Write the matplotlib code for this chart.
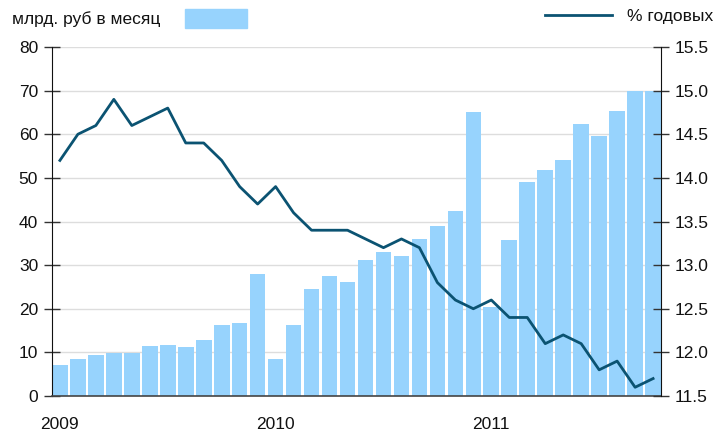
import matplotlib
matplotlib.use("Agg")
import matplotlib.pyplot as plt
from matplotlib.patches import Rectangle
from matplotlib.lines import Line2D

plt.rcParams['font.family'] = ['Liberation Sans', 'DejaVu Sans']

months = list(range(34))
year_labels = ["2009", "2010", "2011"]
year_pos = [0, 12, 24]

volume = [7.1, 8.5, 9.4, 9.85, 9.85, 11.45, 11.7, 11.2, 12.8, 16.3, 16.7, 27.9,
          8.5, 16.3, 24.5, 27.5, 26.1, 31.1, 33.0, 32.1, 36.0, 38.9, 42.4, 65.0,
          20.4, 35.7, 49.0, 51.9, 54.0, 62.4, 59.5, 65.4, 70.0, 69.8]
rate = [14.2, 14.5, 14.6, 14.9, 14.6, 14.7, 14.8, 14.4, 14.4, 14.2, 13.9, 13.7,
        13.9, 13.6, 13.4, 13.4, 13.4, 13.3, 13.2, 13.3, 13.2, 12.8, 12.6, 12.5,
        12.6, 12.4, 12.4, 12.1, 12.2, 12.1, 11.8, 11.9, 11.6, 11.7]

left_label = "млрд. руб в месяц"
right_label = "% годовых"

bar_color = "#97D3FD"
line_color = "#0B5372"
fs = 12.5

fig = plt.figure(figsize=(7.17, 4.32), dpi=100)
W, H = 717, 432
ax = fig.add_axes([52 / W, 1 - 396 / H, (661 - 52) / W, (396 - 47) / H])
ax2 = ax.twinx()

ax.set_axisbelow(True)
ax.bar(months, volume, width=0.87, color=bar_color, zorder=2)
ax.set_ylim(0, 80)
ax.set_yticks(range(0, 81, 10))
ax.set_xlim(-0.44, 33.44)
ax.set_xticks(year_pos)
ax.set_xticklabels(year_labels)
ax.grid(axis='y', color='#DDDDDD', linewidth=1.0)
ax.grid(axis='x', visible=False)

ax2.plot(months, rate, color=line_color, linewidth=2.0, zorder=3)
ax2.set_ylim(11.5, 15.5)
ax2.set_yticks([11.5 + 0.5 * i for i in range(9)])
ax2.set_yticklabels([f"{11.5 + 0.5 * i:.1f}" for i in range(9)])

for a in (ax, ax2):
    a.spines['top'].set_visible(False)
ax.spines['right'].set_visible(False)
ax2.spines['left'].set_visible(False)
ax2.spines['bottom'].set_visible(False)
ax.spines['left'].set_color('#111111')
ax2.spines['right'].set_color('#111111')
ax.spines['bottom'].set_color('#444444')
ax.spines['bottom'].set_linewidth(1.2)

ax.tick_params(axis='y', direction='inout', length=12, width=1, color='#333333',
               labelsize=fs, labelcolor='#111111', pad=4)
ax2.tick_params(axis='y', direction='inout', length=12, width=1, color='#333333',
                labelsize=fs, labelcolor='#111111', pad=4)
ax.tick_params(axis='x', length=0, labelsize=fs, labelcolor='#111111', pad=15)

# Legend row
fig.text(12 / W, 1 - 19 / H, left_label, fontsize=fs, color='#111111',
         ha='left', va='center')
fig.patches.append(Rectangle((185 / W, 1 - 28 / H), 62 / W, 19 / H,
                             transform=fig.transFigure, color=bar_color))
fig.lines.append(Line2D([545 / W, 612 / W], [1 - 15 / H, 1 - 15 / H],
                        transform=fig.transFigure, color=line_color, linewidth=2.0))
fig.text(627 / W, 1 - 16 / H, right_label, fontsize=fs, color='#111111',
         ha='left', va='center')

fig.savefig("out.png", dpi=100)
